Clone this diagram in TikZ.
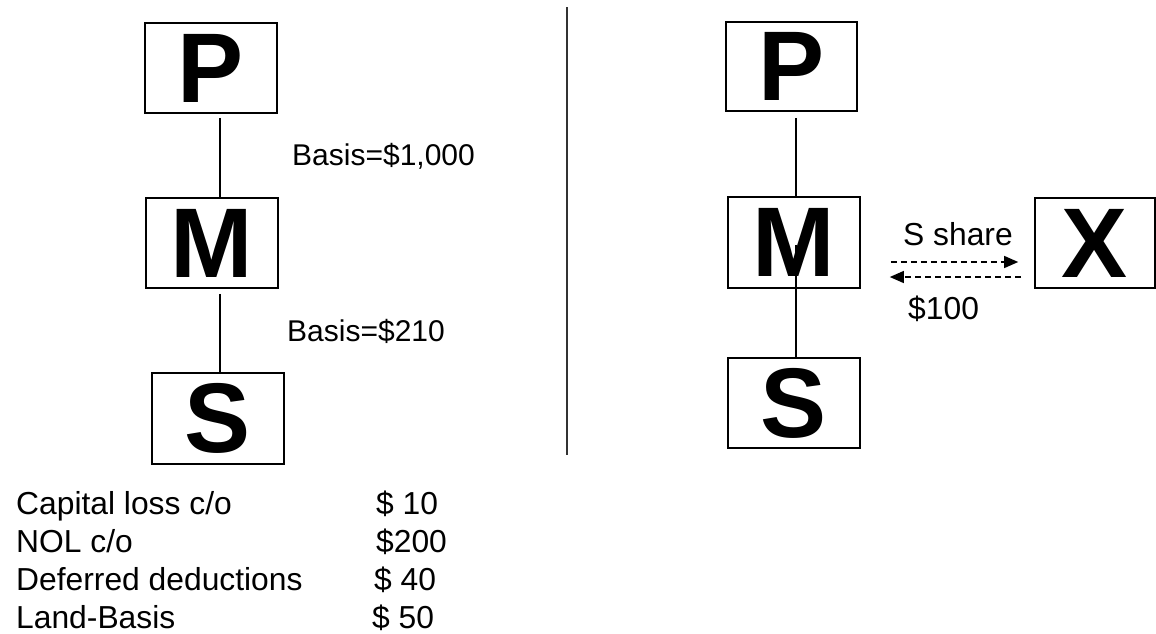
\documentclass[tikz,border=0pt]{standalone}
\usepackage{fontspec}
\setmainfont{Liberation Sans}
\usetikzlibrary{arrows.meta}
\begin{document}
\begin{tikzpicture}[x=1pt,y=-1pt,
  ent/.style={draw, line width=1.6pt, rectangle, inner sep=0pt, minimum width=132pt, minimum height=90pt, font=\fontsize{99}{99}\selectfont\bfseries},
  lbl/.style={anchor=base west, inner sep=0pt, font=\fontsize{30}{30}\selectfont},
  tbl/.style={anchor=base west, inner sep=0pt, font=\fontsize{31.8}{31.8}\selectfont},
  link/.style={line width=1.3pt},
  flow/.style={line width=1.2pt, dash pattern=on 6pt off 4pt, -{Triangle[length=14pt,width=12pt]}}
]
\useasboundingbox (0,0) rectangle (1156,633);
% left group
\node[ent] (LP) at (211,68) {P};
\node[ent] (LM) at (212,243) {M};
\node[ent, minimum height=91pt] (LS) at (218,418.5) {S};
\draw[link, shorten <=4pt] ([xshift=9pt]LP.south) -- ([xshift=8pt]LM.north);
\draw[link, shorten <=5pt] ([xshift=8pt]LM.south) -- ([xshift=2pt]LS.north);
\node[lbl] (b1) at (292,165) {Basis=\$1,000};
\node[lbl] (b2) at (287,341) {Basis=\$210};
% table
\node[tbl] (t1) at (16,514) {Capital loss c/o};
\node[tbl] (t2) at (16,552) {NOL c/o};
\node[tbl] (t3) at (16,590) {Deferred deductions};
\node[tbl] (t4) at (16,628) {Land-Basis};
\node[tbl] (v1) at (376,514) {\$ 10};
\node[tbl] (v2) at (376,552) {\$200};
\node[tbl] (v3) at (374,590) {\$ 40};
\node[tbl] (v4) at (372,628) {\$ 50};
% separator
\coordinate (sepTop) at (567,7);
\coordinate (sepBot) at (567,455);
\draw[line width=1.5pt, black!80] (sepTop) -- (sepBot);
% right group
\node[ent, minimum width=131pt, minimum height=89pt] (RP) at (791.5,66.5) {P};
\node[ent, minimum height=91pt] (RM) at (794,242.5) {M};
\node[ent] (RS) at (794,403) {S};
\node[ent, minimum width=120pt] (X) at (1095,243) {X};
\draw[link, shorten <=6pt] ([xshift=4.5pt]RP.south) -- ([xshift=2pt]RM.north);
\draw[link] ([xshift=2pt,yshift=-2pt]RM.center) -- ([xshift=2pt]RS.north);
\draw[flow, shorten <=30pt, shorten >=16pt] ([yshift=-19.5pt]RM.east) -- ([yshift=-19pt]X.west);
\draw[flow, shorten <=13pt, shorten >=29pt] ([yshift=-34pt]X.west) -- ([yshift=-34.5pt]RM.east);
\node[tbl] (ss) at (903,245) {S share};
\node[tbl] (hundred) at (908,319) {\$100};
\end{tikzpicture}
\end{document}
